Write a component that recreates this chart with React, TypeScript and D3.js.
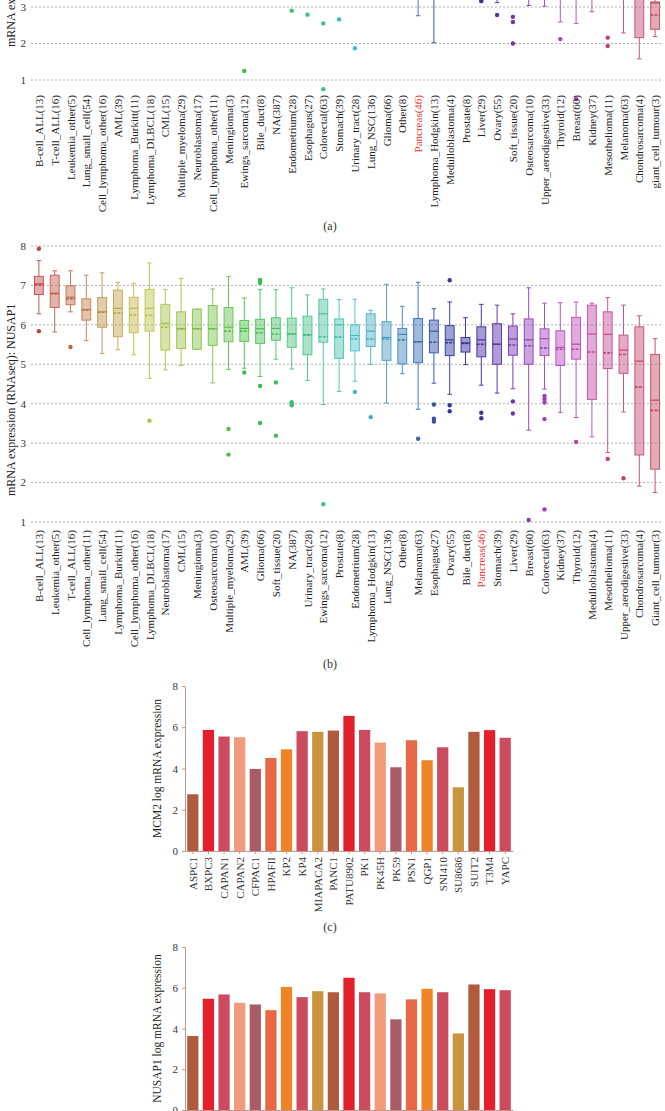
import React, { useEffect, useRef } from 'react';
import * as d3 from 'd3';

const FONT = '"Liberation Serif", "Times New Roman", serif';

// ---- panel (a): MCM2 across tumour types (only the bottom of it is in frame)
const namesA = ['B-cell_ALL(13)', 'T-cell_ALL(16)', 'Leukemia_other(5)', 'Lung_small_cell(54)', 'Cell_lymphoma_other(16)', 'AML(39)', 'Lymphoma_Burkitt(11)', 'Lymphoma_DLBCL(18)', 'CML(15)', 'Multiple_myeloma(29)', 'Neuroblastoma(17)', 'Cell_lymphoma_other(11)', 'Meningioma(3)', 'Ewings_sarcoma(12)', 'Bile_duct(8)', 'NA(387)', 'Endometrium(28)', 'Esophagus(27)', 'Colorectal(63)', 'Stomach(39)', 'Urinary_tract(28)', 'Lung_NSC(136)', 'Glioma(66)', 'Other(8)', 'Pancreas(46)', 'Lymphoma_Hodgkin(13)', 'Medulloblastoma(4)', 'Prostate(8)', 'Liver(29)', 'Ovary(55)', 'Soft_tissue(20)', 'Osteosarcoma(10)', 'Upper_aerodigestive(33)', 'Thyroid(12)', 'Breast(60)', 'Kidney(37)', 'Mesothelioma(11)', 'Melanoma(63)', 'Chondrosarcoma(4)', 'giant_cell_tumour(3)'];
const loA = [5.6, 5.5, 5.4, 4.9, 4.8, 4.6, 5.0, 4.5, 4.6, 4.2, 4.4, 4.3, 5.3, 4.0, 4.3, 3.6, 3.4, 3.5, 3.4, 3.5, 3.6, 3.3, 3.4, 3.9, 2.76, 2.02, 4.0, 3.6, 3.4, 3.12, 3.3, 3.04, 3.02, 2.59, 2.55, 2.87, 3.3, 2.29, 1.58, 2.19];
const q1A = [6.6, 6.5, 6.3, 6.0, 5.9, 5.8, 5.8, 5.6, 5.6, 5.4, 5.4, 5.3, 5.3, 5.1, 5.0, 4.9, 4.9, 4.8, 4.8, 4.7, 4.7, 4.6, 4.6, 4.6, 4.5, 4.2, 4.4, 4.3, 4.3, 4.3, 4.2, 4.0, 4.1, 3.9, 3.9, 3.8, 3.9, 3.7, 2.16, 2.39];
const medA = [7.0, 6.9, 6.7, 6.5, 6.4, 6.3, 6.3, 6.2, 6.1, 6.0, 5.9, 5.8, 5.7, 5.7, 5.6, 5.5, 5.5, 5.4, 5.4, 5.3, 5.3, 5.2, 5.2, 5.1, 5.1, 5.0, 5.0, 4.9, 4.9, 4.8, 4.8, 4.7, 4.7, 4.6, 4.5, 4.4, 4.4, 4.3, 3.8, 3.11];
const meanA = [6.9, 6.8, 6.6, 6.4, 6.3, 6.2, 6.2, 6.1, 6.0, 5.9, 5.8, 5.8, 5.7, 5.4, 5.5, 5.5, 5.4, 5.4, 5.3, 5.2, 5.2, 5.2, 5.1, 5.1, 5.0, 4.8, 4.9, 4.8, 4.8, 4.8, 4.7, 4.6, 4.6, 4.5, 4.5, 4.4, 4.3, 4.2, 3.6, 2.78];
const q3A = [7.3, 7.2, 7.1, 6.9, 6.8, 6.7, 6.6, 6.6, 6.5, 6.4, 6.3, 6.2, 6.1, 6.1, 6.0, 6.0, 6.0, 5.9, 5.9, 5.8, 5.7, 5.7, 5.7, 5.6, 5.6, 5.5, 5.4, 5.3, 5.4, 5.4, 5.3, 5.2, 5.2, 5.1, 5.1, 5.0, 4.9, 4.8, 4.9, 3.14];
const hiA = [7.8, 7.7, 7.5, 7.7, 7.4, 7.6, 7.2, 7.4, 7.1, 7.3, 7.0, 6.9, 6.1, 6.8, 6.5, 7.4, 7.2, 7.0, 7.3, 7.0, 6.8, 7.1, 6.9, 6.5, 6.8, 6.3, 5.8, 5.9, 6.6, 6.7, 6.4, 6.1, 6.4, 6.0, 6.5, 6.1, 5.8, 6.2, 5.6, 3.5];
const outA = [[], [], [], [], [], [], [], [], [], [], [], [], [], [1.25], [], [], [2.9], [2.79], [2.55, 0.75], [2.66], [1.87], [], [], [], [], [], [], [], [3.16], [2.78], [2.73, 2.59, 2.0], [], [], [2.12], [0.48], [], [2.16, 1.93], [], [], []];

// ---- panel (b): NUSAP1 across tumour types
const namesB = ['B-cell_ALL(13)', 'Leukemia_other(5)', 'T-cell_ALL(16)', 'Cell_lymphoma_other(11)', 'Lung_small_cell(54)', 'Lymphoma_Burkitt(11)', 'Cell_lymphoma_other(16)', 'Lymphoma_DLBCL(18)', 'Neuroblastoma(17)', 'CML(15)', 'Meningioma(3)', 'Osteosarcoma(10)', 'Multiple_myeloma(29)', 'AML(39)', 'Glioma(66)', 'Soft_tissue(20)', 'NA(387)', 'Urinary_tract(28)', 'Ewings_sarcoma(12)', 'Prostate(8)', 'Endometrium(28)', 'Lymphoma_Hodgkin(13)', 'Lung_NSC(136)', 'Other(8)', 'Melanoma(63)', 'Esophagus(27)', 'Ovary(55)', 'Bile_duct(8)', 'Pancreas(46)', 'Stomach(39)', 'Liver(29)', 'Breast(60)', 'Colorectal(63)', 'Kidney(37)', 'Thyroid(12)', 'Medulloblastoma(4)', 'Mesothelioma(11)', 'Upper_aerodigestive(33)', 'Chondrosarcoma(4)', 'Giant_cell_tumour(3)'];
const loB = [6.28, 5.82, 6.33, 5.6, 5.27, 5.37, 5.24, 4.64, 4.86, 4.97, 5.38, 4.53, 4.87, 4.9, 4.69, 5.13, 4.88, 4.59, 3.98, 4.31, 4.57, 5.0, 4.02, 4.76, 3.86, 4.52, 4.24, 4.99, 4.47, 4.27, 4.38, 3.33, 4.37, 3.78, 3.65, 3.16, 2.76, 3.79, 1.91, 1.75];
const q1B = [6.77, 6.44, 6.51, 6.12, 5.94, 5.7, 5.8, 5.84, 5.36, 5.4, 5.38, 5.48, 5.57, 5.58, 5.53, 5.61, 5.43, 5.24, 5.56, 5.15, 5.34, 5.45, 5.1, 5.01, 5.04, 5.29, 5.22, 5.31, 5.19, 5.0, 5.23, 5.0, 5.22, 4.97, 5.13, 4.11, 4.89, 4.77, 2.7, 2.34];
const medB = [7.04, 6.8, 6.7, 6.39, 6.33, 6.42, 6.42, 6.42, 6.04, 5.91, 5.9, 5.9, 5.94, 5.91, 5.9, 5.91, 5.77, 5.75, 6.28, 6.0, 5.73, 5.84, 5.68, 5.76, 5.57, 5.84, 5.62, 5.54, 5.62, 5.51, 5.64, 5.62, 5.65, 5.43, 5.51, 5.77, 5.76, 5.36, 5.08, 4.09];
const meanB = [7.01, 6.79, 6.66, 6.37, 6.32, 6.3, 6.25, 6.24, 5.94, 5.89, 5.9, 5.9, 5.84, 5.84, 5.8, 5.76, 5.77, 5.74, 5.7, 5.69, 5.64, 5.64, 5.64, 5.62, 5.57, 5.56, 5.55, 5.53, 5.51, 5.51, 5.49, 5.47, 5.41, 5.38, 5.38, 5.31, 5.29, 5.25, 4.42, 3.83];
const q3B = [7.23, 7.26, 6.99, 6.66, 6.69, 6.88, 6.7, 6.9, 6.52, 6.33, 6.4, 6.49, 6.44, 6.11, 6.14, 6.18, 6.17, 6.22, 6.65, 6.15, 6.0, 6.28, 6.08, 5.91, 6.16, 6.12, 5.98, 5.68, 5.95, 6.03, 5.97, 6.15, 5.9, 5.85, 6.19, 6.5, 6.33, 5.74, 5.95, 5.25];
const hiB = [7.63, 7.37, 7.37, 7.26, 7.32, 7.08, 7.05, 7.57, 6.9, 7.18, 6.4, 6.91, 7.23, 6.68, 6.9, 6.89, 6.94, 6.76, 6.91, 6.64, 6.65, 6.37, 7.03, 6.47, 7.08, 6.41, 6.58, 6.18, 6.52, 6.5, 6.28, 6.94, 6.55, 6.56, 6.58, 6.55, 6.69, 6.5, 6.23, 5.65];
const outB = [[7.93, 5.84], [], [5.44], [], [], [], [], [3.57], [], [], [], [], [3.36, 2.71], [4.79], [7.14, 7.1, 7.06, 4.45, 3.51], [4.54, 3.19], [4.04, 4.0, 3.96], [], [1.45], [], [4.3], [3.66], [], [], [3.11], [3.98, 3.62, 3.55], [7.13, 3.96, 3.81], [], [3.77, 3.63], [], [4.06, 3.75], [1.05], [4.2, 4.12, 4.03, 3.61, 1.32], [], [3.03], [], [2.6], [2.11], [], []];

// ---- panels (c) and (d): pancreatic cancer cell lines
const cellLines = ['ASPC1', 'BXPC3', 'CAPAN1', 'CAPAN2', 'CFPAC1', 'HPAFII', 'KP2', 'KP4', 'MIAPACA2', 'PANC1', 'PATU8902', 'PK1', 'PK45H', 'PK59', 'PSN1', 'QGP1', 'SNI410', 'SU8686', 'SUIT2', 'T3M4', 'YAPC'];
const mcm2Values = [2.75, 5.87, 5.55, 5.52, 3.98, 4.51, 4.93, 5.81, 5.78, 5.84, 6.55, 5.87, 5.26, 4.06, 5.37, 4.4, 5.03, 3.09, 5.78, 5.86, 5.49];
const nusap1Values = [3.63, 5.46, 5.67, 5.26, 5.18, 4.9, 6.04, 5.54, 5.83, 5.78, 6.49, 5.78, 5.72, 4.45, 5.43, 5.95, 5.78, 3.76, 6.16, 5.93, 5.88];
const barPalette = ['#b05b3e', '#e21f2b', '#cd4b5e', '#f29b7b', '#a95c67', '#e86845', '#ee8424', '#cd4b5e', '#c9943d'];

const AXIS = '#c4958a';

const boxColor = (i: number) => {
  const h = i * 9;
  const dip = Math.exp(-Math.pow((h - 245) / 30, 2));
  return d3.hsl(h, 0.5, 0.56 - 0.14 * dip);
};

function drawBoxPanel(svg: any, cfg: any) {
  const { names, lo, q1, med, mean, q3, hi, outs, y, labelTop, title, titleY } = cfg;
  const idx = d3.range(names.length);
  const x = d3.scaleBand<number>().domain(idx).range([31, 663]);
  const cx = (i: number) => (x(i) as number) + x.bandwidth() / 2;
  const bw = x.bandwidth() * 0.56;
  const cap = 2.3;
  const g = svg.append('g');

  const ticks = d3.range(1, 9);
  g.selectAll('line.grid').data(ticks).join('line')
    .attr('x1', 31).attr('x2', 663)
    .attr('y1', (d: number) => y(d)).attr('y2', (d: number) => y(d))
    .attr('stroke', '#9c9c9c').attr('stroke-width', 0.8).attr('stroke-dasharray', '2,2');
  // tick labels only where they land inside the frame
  g.selectAll('text.tick').data(ticks.filter((d) => y(d) > 4)).join('text')
    .attr('x', 26).attr('y', (d: number) => y(d)).attr('dy', '0.35em')
    .attr('text-anchor', 'end').attr('font-size', 11).attr('fill', '#333')
    .text((d: number) => d);

  const b = g.selectAll('g.box').data(idx).join('g');
  const col = (i: number) => boxColor(i).formatHex();
  const dark = (i: number) => boxColor(i).darker(0.35).formatHex();

  b.append('line').attr('x1', cx).attr('x2', cx)
    .attr('y1', (i: number) => y(hi[i])).attr('y2', (i: number) => y(q3[i]))
    .attr('stroke', col).attr('stroke-width', 1);
  b.append('line').attr('x1', cx).attr('x2', cx)
    .attr('y1', (i: number) => y(q1[i])).attr('y2', (i: number) => y(lo[i]))
    .attr('stroke', col).attr('stroke-width', 1);
  [hi, lo].forEach((arr: number[]) => {
    b.append('line')
      .attr('x1', (i: number) => cx(i) - cap).attr('x2', (i: number) => cx(i) + cap)
      .attr('y1', (i: number) => y(arr[i])).attr('y2', (i: number) => y(arr[i]))
      .attr('stroke', col).attr('stroke-width', 1);
  });
  b.append('rect')
    .attr('x', (i: number) => cx(i) - bw / 2).attr('width', bw)
    .attr('y', (i: number) => y(q3[i])).attr('height', (i: number) => y(q1[i]) - y(q3[i]))
    .attr('fill', col).attr('fill-opacity', 0.5)
    .attr('stroke', col).attr('stroke-width', 1);
  b.append('line')
    .attr('x1', (i: number) => cx(i) - bw / 2).attr('x2', (i: number) => cx(i) + bw / 2)
    .attr('y1', (i: number) => y(med[i])).attr('y2', (i: number) => y(med[i]))
    .attr('stroke', dark).attr('stroke-width', 1.1);
  b.append('line')
    .attr('x1', (i: number) => cx(i) - bw / 2).attr('x2', (i: number) => cx(i) + bw / 2)
    .attr('y1', (i: number) => y(mean[i])).attr('y2', (i: number) => y(mean[i]))
    .attr('stroke', dark).attr('stroke-width', 1.6).attr('stroke-dasharray', '2.6,1.4');
  b.selectAll('circle')
    .data((i: number) => outs[i].map((v: number) => ({ i, v })))
    .join('circle')
    .attr('cx', (d: any) => cx(d.i)).attr('cy', (d: any) => y(d.v)).attr('r', 2.2)
    .attr('fill', (d: any) => dark(d.i));

  g.selectAll('text.cat').data(names).join('text')
    .attr('transform', (_: string, i: number) => `translate(${cx(i) + 4},${labelTop}) rotate(-90)`)
    .attr('text-anchor', 'end').attr('font-size', 11)
    .attr('fill', (d: string) => (d.startsWith('Pancreas') ? '#e5322f' : '#222'))
    .text((d: string) => d);

  g.append('text')
    .attr('transform', `translate(15,${titleY}) rotate(-90)`)
    .attr('font-size', 12).attr('fill', '#222')
    .text(title);
}

function drawBarPanel(svg: any, values: number[], y0: number, y8: number, title: string, showLabels: boolean) {
  const idx = d3.range(cellLines.length);
  const x = d3.scaleBand<number>().domain(idx).range([185, 513]).paddingInner(0.28).paddingOuter(0.14);
  const y = d3.scaleLinear().domain([0, 8]).range([y0, y8]);
  const g = svg.append('g');

  g.selectAll('rect').data(idx).join('rect')
    .attr('x', (i: number) => x(i)).attr('width', x.bandwidth())
    .attr('y', (i: number) => y(values[i])).attr('height', (i: number) => y(0) - y(values[i]))
    .attr('fill', (i: number) => barPalette[i % barPalette.length]);

  const ya = g.append('g').attr('transform', 'translate(185,0)')
    .call(d3.axisLeft(y).tickValues([0, 2, 4, 6, 8]).tickSize(3).tickSizeOuter(0).tickPadding(4));
  const xa = g.append('g').attr('transform', `translate(0,${y0})`)
    .call(d3.axisBottom(x).tickSize(3).tickSizeOuter(0).tickFormat((i: number) => (showLabels ? cellLines[i] : '')));
  xa.selectAll('text')
    .attr('transform', 'rotate(-90)').attr('x', -6).attr('y', 0).attr('dy', '0.35em')
    .attr('text-anchor', 'end');
  [ya, xa].forEach((a: any) => {
    a.select('.domain').attr('stroke', AXIS);
    a.selectAll('line').attr('stroke', AXIS);
    a.selectAll('text').attr('font-family', FONT).attr('font-size', 11).attr('fill', '#333');
  });

  g.append('text')
    .attr('transform', `translate(161,${(y0 + y8) / 2}) rotate(-90)`)
    .attr('text-anchor', 'middle').attr('font-size', 11.5).attr('fill', '#222')
    .text(title);
}

const App = () => {
  const svgRef = useRef<SVGSVGElement>(null);

  useEffect(() => {
    const svg = d3.select(svgRef.current);
    svg.selectAll('*').remove();

    drawBoxPanel(svg, {
      names: namesA, lo: loA, q1: q1A, med: medA, mean: meanA, q3: q3A, hi: hiA, outs: outA,
      y: d3.scaleLinear().domain([1, 3]).range([80, 7]),
      labelTop: 95, title: 'mRNA expression (RNAseq): MCM2', titleY: 47,
    });
    drawBoxPanel(svg, {
      names: namesB, lo: loB, q1: q1B, med: medB, mean: meanB, q3: q3B, hi: hiB, outs: outB,
      y: d3.scaleLinear().domain([1, 8]).range([522, 246]),
      labelTop: 530, title: 'mRNA expression (RNAseq): NUSAP1', titleY: 496,
    });
    drawBarPanel(svg, mcm2Values, 851, 686, 'MCM2 log mRNA expression', true);
    // (d) runs off the bottom of the page, its cell line names fall outside the frame
    drawBarPanel(svg, nusap1Values, 1110, 947, 'NUSAP1 log mRNA expression', false);

    // panel letters
    svg.selectAll('text.letter')
      .data([['(a)', 230], ['(b)', 668], ['(c)', 931]])
      .join('text')
      .attr('x', 330).attr('y', (d: any) => d[1])
      .attr('text-anchor', 'middle').attr('font-size', 12).attr('fill', '#333')
      .text((d: any) => d[0]);
  }, []);

  return (
    <svg
      ref={svgRef}
      width={665}
      height={1111}
      style={{ position: 'absolute', left: 0, top: 0, background: '#fff', fontFamily: FONT }}
    />
  );
};

export default App;
